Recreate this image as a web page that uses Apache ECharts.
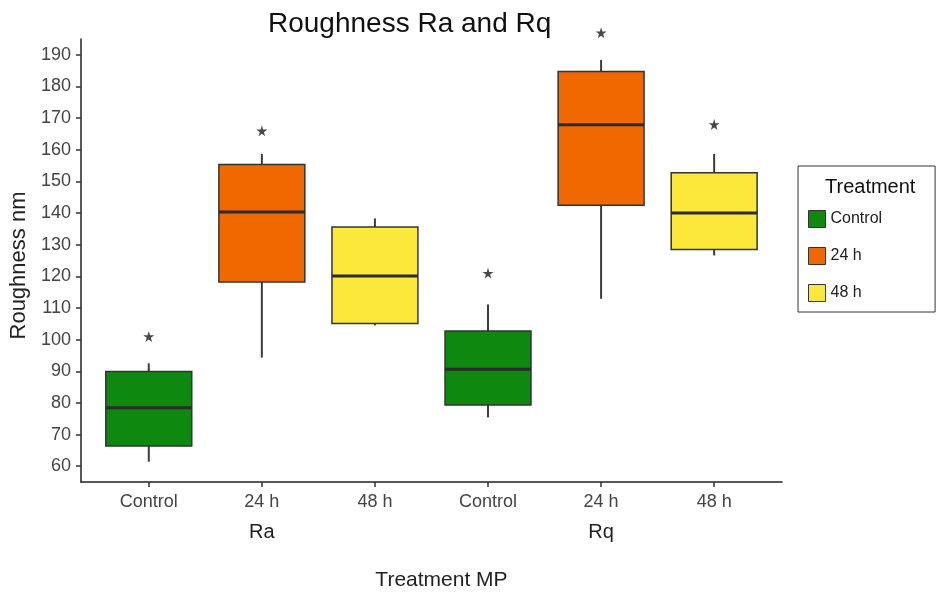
<!DOCTYPE html>
<html lang="en">

<head>
    <meta charset="UTF-8">
    <title>Roughness Ra and Rq</title>
    <script type="text/javascript" src="https://cdn.jsdelivr.net/npm/echarts@6/dist/echarts.min.js"></script>
    <style>
        body {
            margin: 0;
            background: #fff;
        }

        .box {
            width: 937px;
            height: 596px;
        }
    </style>
</head>

<body>
    <div class="box"></div>
</body>
<script>
    // categories along x, grouped into Ra / Rq
    const categories = ['Control', '24 h', '48 h', 'Control', '24 h', '48 h']
    const groups = ['Ra', 'Rq']
    const groupPos = [2, 5]
    const treatments = ['Control', '24 h', '48 h']
    const colors = ['#0e880e', '#f06800', '#fbe83a']

    // box stats
    const whiskerLow = [61.4, 94.3, 104.5, 75.4, 112.9, 126.6]
    const q1 = [66.4, 118.2, 105.1, 79.3, 142.5, 128.5]
    const median = [78.5, 140.3, 120.1, 90.6, 167.9, 140.0]
    const q3 = [89.9, 155.3, 135.6, 102.7, 184.7, 152.7]
    const whiskerHigh = [92.5, 158.7, 138.3, 111.1, 188.4, 158.7]
    // significance stars (null = none)
    const stars = [101, 166, null, 121, 197, 168]

    const yTicks = [60, 70, 80, 90, 100, 110, 120, 130, 140, 150, 160, 170, 180, 190]
    const xTicks = [1, 2, 3, 4, 5, 6]

    const boxWidth = 0.76

    let mCharts = echarts.init(document.querySelector('.box'))

    function renderBox(params, api) {
        let x = api.value(0)
        let lo = api.coord([x, api.value(1)])
        let b = api.coord([x, api.value(2)])
        let md = api.coord([x, api.value(3)])
        let t = api.coord([x, api.value(4)])
        let hi = api.coord([x, api.value(5)])
        let w = api.size([boxWidth, 0])[0]
        return {
            type: 'group',
            children: [{
                type: 'line',
                shape: { x1: lo[0], y1: lo[1], x2: hi[0], y2: hi[1] },
                style: { stroke: '#3c3c3c', lineWidth: 2 }
            }, {
                type: 'rect',
                shape: { x: t[0] - w / 2, y: t[1], width: w, height: b[1] - t[1] },
                style: { fill: api.visual('color'), stroke: '#333', lineWidth: 1.5 }
            }, {
                type: 'line',
                shape: { x1: md[0] - w / 2, y1: md[1], x2: md[0] + w / 2, y2: md[1] },
                style: { stroke: '#2b2b2b', lineWidth: 3 }
            }]
        }
    }

    let boxSeries = treatments.map(function (tr, k) {
        let data = []
        categories.forEach(function (c, i) {
            if (c === tr) {
                data.push([i + 1, whiskerLow[i], q1[i], median[i], q3[i], whiskerHigh[i]])
            }
        })
        return {
            name: tr,
            type: 'custom',
            renderItem: renderBox,
            itemStyle: { color: colors[k] },
            encode: { x: 0, y: [1, 2, 3, 4, 5] },
            data: data
        }
    })

    let starData = []
    stars.forEach(function (v, i) {
        if (v !== null) starData.push([i + 1, v])
    })

    let option = {
        animation: false,
        textStyle: { fontFamily: 'Liberation Sans, Arial, sans-serif' },
        title: [{
            text: 'Roughness Ra and Rq',
            left: 263,
            top: 5,
            textStyle: { fontSize: 28, fontWeight: 'normal', color: '#111' }
        }, {
            text: 'Treatment',
            left: 820,
            top: 172,
            textStyle: { fontSize: 20, fontWeight: 'normal', color: '#111' }
        }],
        legend: {
            data: treatments,
            orient: 'vertical',
            left: 798,
            top: 166,
            icon: 'rect',
            itemWidth: 17,
            itemHeight: 17,
            itemGap: 19,
            padding: [44, 53, 10, 10],
            borderColor: '#333',
            borderWidth: 1,
            itemStyle: { borderColor: '#333', borderWidth: 1 },
            textStyle: { fontSize: 16, color: '#222' }
        },
        grid: {
            left: 80,
            right: 155,
            top: 39,
            bottom: 114
        },
        xAxis: [{
            type: 'value',
            min: 0.4,
            max: 6.6,
            splitLine: { show: false },
            axisLine: { lineStyle: { color: '#222', width: 1.5 } },
            axisTick: { customValues: xTicks, length: 5, lineStyle: { color: '#333', width: 1.5 } },
            axisLabel: {
                customValues: xTicks,
                formatter: function (v) { return categories[Math.round(v) - 1] },
                margin: 11,
                fontSize: 18,
                color: '#444'
            }
        }, {
            type: 'value',
            min: 0.4,
            max: 6.6,
            position: 'bottom',
            splitLine: { show: false },
            axisLine: { show: false },
            axisTick: { show: false },
            axisLabel: {
                customValues: groupPos,
                formatter: function (v) { return groups[groupPos.indexOf(Math.round(v))] },
                margin: 40,
                fontSize: 20,
                color: '#222'
            },
            name: 'Treatment MP',
            nameLocation: 'middle',
            nameGap: 88,
            nameTextStyle: { fontSize: 21, color: '#222', padding: [0, 0, 0, 20] }
        }],
        yAxis: {
            type: 'value',
            min: 55,
            max: 195,
            splitLine: { show: false },
            axisLine: { show: true, lineStyle: { color: '#222', width: 1.5 } },
            axisTick: { show: true, customValues: yTicks, length: 5, lineStyle: { color: '#333', width: 1.5 } },
            axisLabel: { customValues: yTicks, margin: 10, fontSize: 18, color: '#444' },
            name: 'Roughness nm',
            nameLocation: 'middle',
            nameRotate: 90,
            nameGap: 43,
            nameTextStyle: { fontSize: 22, color: '#222', padding: [0, 10, 0, 0] }
        },
        series: boxSeries.concat([{
            name: 'stars',
            type: 'scatter',
            clip: false,
            symbol: 'path://M50,0 L61,35 L98,35 L68,57 L79,91 L50,70 L21,91 L32,57 L2,35 L39,35 Z',
            symbolSize: 11,
            itemStyle: { color: '#1a1a1a' },
            data: starData
        }])
    };
    mCharts.setOption(option)
</script>

</html>
